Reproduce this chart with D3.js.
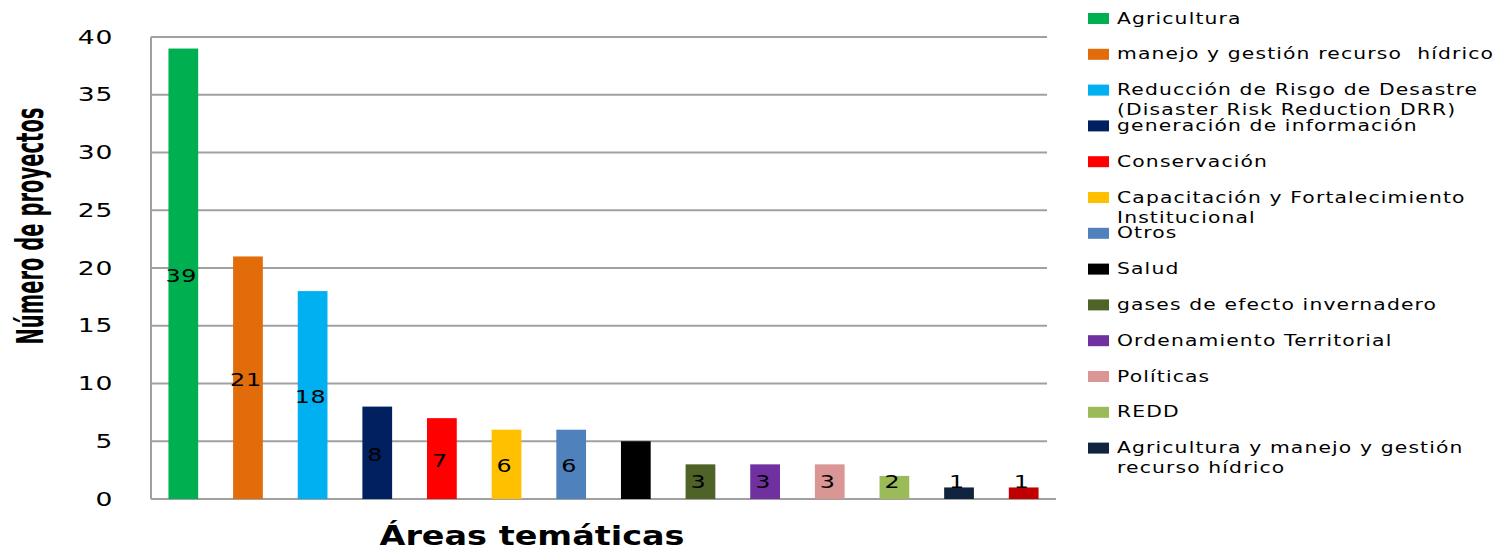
<!DOCTYPE html>
<html>
<head>
<meta charset="utf-8">
<script src="https://cdn.jsdelivr.net/npm/d3@7"></script>
<style>
body { margin: 0; background: #fff; }
text { white-space: pre; }
</style>
</head>
<body>
<script>
// bar chart of projects by thematic area

var categories = ["Agricultura", "manejo y gestión recurso  hídrico",
  "Reducción de Risgo de Desastre|(Disaster Risk Reduction DRR)",
  "generación de información", "Conservación",
  "Capacitación y Fortalecimiento|Institucional", "Otros", "Salud",
  "gases de efecto invernadero", "Ordenamiento Territorial", "Políticas",
  "REDD", "Agricultura y manejo y gestión|recurso hídrico", ""];
var values = [39, 21, 18, 8, 7, 6, 6, 5, 3, 3, 3, 2, 1, 1];
var colors = ["#00B050", "#E36C0A", "#00B0F0", "#002060", "#FF0000", "#FFC000",
  "#4F81BD", "#000000", "#4F6228", "#7030A0", "#D99694", "#9BBB59", "#10243F", "#C00000"];
var yTicks = [0, 5, 10, 15, 20, 25, 30, 35, 40];

var width = 1500;
var height = 548;

var svg = d3.select("body").append("svg")
  .attr("width", width)
  .attr("height", height);

var plotLeft = 151, plotRight = 1056, plotTop = 37, plotBottom = 499;

var x = d3.scaleBand()
  .domain(d3.range(values.length))
  .range([plotLeft, plotRight])
  .paddingInner(0.54)
  .paddingOuter(0.27);

var y = d3.scaleLinear()
  .domain([0, 40])
  .range([plotBottom, plotTop]);

// gridlines
svg.append("g")
  .selectAll("line")
  .data(yTicks)
  .enter().append("line")
  .attr("x1", plotLeft)
  .attr("x2", function(d) { return d == 0 ? plotRight : 1047; })
  .attr("y1", function(d) { return y(d); })
  .attr("y2", function(d) { return y(d); })
  .attr("stroke", "#a0a0a0")
  .attr("stroke-width", 2);

// y axis line
svg.append("line")
  .attr("x1", plotLeft).attr("x2", plotLeft)
  .attr("y1", y(40)).attr("y2", y(0))
  .attr("stroke", "#a0a0a0")
  .attr("stroke-width", 2);

// tick labels (stretched wide like the original)
svg.append("g")
  .selectAll("text")
  .data(yTicks)
  .enter().append("text")
  .attr("transform", function(d) { return "translate(113," + y(d) + ") scale(1.4,1)"; })
  .attr("dy", "0.35em")
  .attr("text-anchor", "end")
  .attr("font-family", "DejaVu Sans")
  .attr("font-size", 19)
  .attr("letter-spacing", 0.5)
  .text(function(d) { return d; });

// bars
svg.append("g")
  .selectAll("rect")
  .data(values)
  .enter().append("rect")
  .attr("x", function(d, i) { return x(i); })
  .attr("y", function(d) { return y(d); })
  .attr("width", x.bandwidth())
  .attr("height", function(d) { return y(0) - y(d); })
  .attr("fill", function(d, i) { return colors[i]; });

// value labels
svg.append("g")
  .selectAll("text")
  .data(values)
  .enter().append("text")
  .attr("transform", function(d, i) {
    var ly = Math.min((y(d) + y(0)) / 2 + 2, y(0) - 17);
    return "translate(" + (x(i) + x.bandwidth() / 2 - 2) + "," + ly + ") scale(1.4,1)";
  })
  .attr("dy", "0.35em")
  .attr("text-anchor", "middle")
  .attr("font-family", "DejaVu Sans")
  .attr("font-size", 17)
  .attr("letter-spacing", 0.5)
  .attr("fill", "#000")
  .text(function(d) { return d; });

// axis titles
svg.append("text")
  .attr("transform", "translate(43,226) rotate(-90)")
  .attr("text-anchor", "middle")
  .attr("font-family", "DejaVu Sans")
  .attr("font-weight", "bold")
  .attr("font-size", 37)
  .attr("textLength", 237)
  .attr("lengthAdjust", "spacingAndGlyphs")
  .text("Número de proyectos");

svg.append("text")
  .attr("x", 532)
  .attr("y", 545)
  .attr("text-anchor", "middle")
  .attr("font-family", "DejaVu Sans")
  .attr("font-weight", "bold")
  .attr("font-size", 26)
  .attr("textLength", 305)
  .attr("lengthAdjust", "spacingAndGlyphs")
  .text("Áreas temáticas");

// legend
var legend = svg.append("g")
  .selectAll("g")
  .data(categories.slice(0, 13))
  .enter().append("g")
  .attr("transform", function(d, i) { return "translate(1088," + (18 + i * 35.8) + ")"; });

legend.append("rect")
  .attr("x", 0).attr("y", -5)
  .attr("width", 21).attr("height", 11)
  .attr("fill", function(d, i) { return colors[i]; });

legend.each(function(d) {
  var t = d3.select(this).append("text")
    .attr("transform", "translate(29,0) scale(1.27,1)")
    .attr("font-family", "DejaVu Sans")
    .attr("font-size", 16)
    .attr("letter-spacing", 0.9)
    .attr("fill", "#000");
  d.split("|").forEach(function(line, k) {
    t.append("tspan")
      .attr("x", 0)
      .attr("y", k * 20)
      .attr("dy", "0.35em")
      .text(line);
  });
});
</script>
</body>
</html>
